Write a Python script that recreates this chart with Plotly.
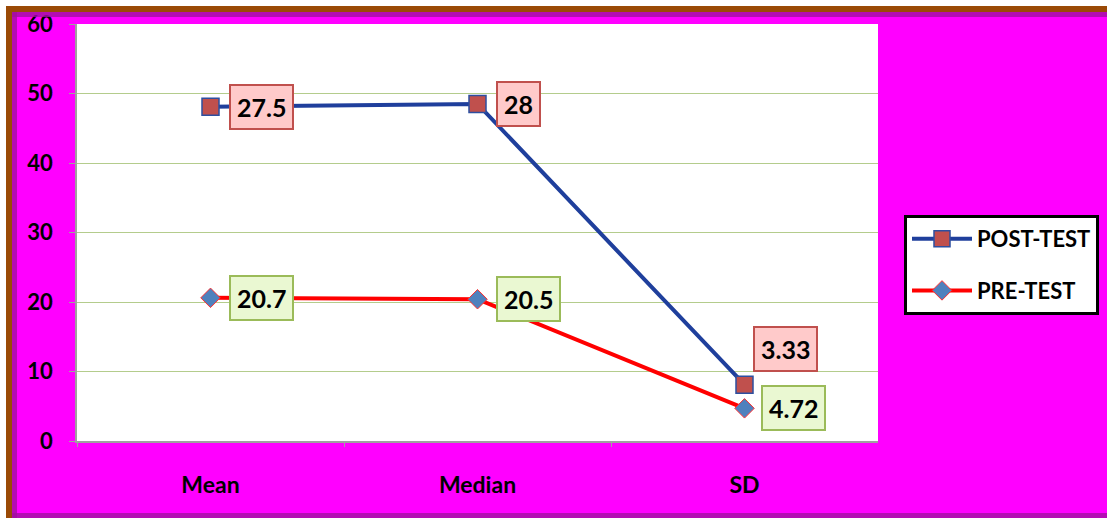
import plotly.graph_objects as go

categories = ["Mean", "Median", "SD"]
post_values = [48.1, 48.5, 8.1]
pre_values = [20.6, 20.4, 4.7]
post_labels = ["27.5", "28", "3.33"]
pre_labels = ["20.7", "20.5", "4.72"]
y_ticks = [0, 10, 20, 30, 40, 50, 60]

W, H = 1107, 518
FONT = "Lato, Open Sans, sans-serif"

fig = go.Figure()
fig.add_trace(go.Scatter(
    x=categories, y=post_values, name="POST-TEST", mode="lines+markers",
    legendgroup="post",
    line=dict(color="#1F3F9C", width=4),
    marker=dict(symbol="square", size=17, color="#C0504D", line=dict(color="#2D4FA0", width=1.5)),
))
fig.add_trace(go.Scatter(
    x=categories, y=pre_values, name="PRE-TEST", mode="lines+markers",
    legendgroup="pre",
    line=dict(color="#FF0000", width=4),
    marker=dict(symbol="diamond", size=15, color="#4F81BD", line=dict(color="#FF3030", width=1)),
))

post_shift = [(18, 0), (18, 0), (8, 36)]
pre_shift = [(18, 0), (18, 0), (16, 0)]
for cat, v, lab, (dx, dy) in zip(categories, post_values, post_labels, post_shift):
    fig.add_annotation(x=cat, y=v, text=lab, showarrow=False,
                       xanchor="left", yanchor="middle", xshift=dx, yshift=dy,
                       bgcolor="#FFCACA", bordercolor="#C0504D", borderwidth=2, borderpad=6,
                       font=dict(family=FONT, size=25, color="black", weight="bold"))
for cat, v, lab, (dx, dy) in zip(categories, pre_values, pre_labels, pre_shift):
    fig.add_annotation(x=cat, y=v, text=lab, showarrow=False,
                       xanchor="left", yanchor="middle", xshift=dx, yshift=dy,
                       bgcolor="#EAF8D2", bordercolor="#9BBB59", borderwidth=2, borderpad=6,
                       font=dict(family=FONT, size=25, color="black", weight="bold"))

def px_x(v):
    return v / W
def px_y(v):
    return 1 - v / H

shapes = [
    dict(type="rect", xref="paper", yref="paper", x0=0, x1=1, y0=px_y(6), y1=1,
         fillcolor="white", line=dict(width=0)),
    dict(type="rect", xref="paper", yref="paper", x0=0, x1=px_x(6), y0=0, y1=1,
         fillcolor="white", line=dict(width=0)),
    dict(type="rect", xref="paper", yref="paper", x0=px_x(6), x1=1, y0=px_y(12), y1=px_y(6),
         fillcolor="#9A4A06", line=dict(width=0)),
    dict(type="rect", xref="paper", yref="paper", x0=px_x(6), x1=px_x(12), y0=0, y1=px_y(6),
         fillcolor="#9A4A06", line=dict(width=0)),
    dict(type="rect", xref="paper", yref="paper", x0=px_x(12), x1=1, y0=px_y(17), y1=px_y(12),
         fillcolor="#A010A0", line=dict(width=0), opacity=0.8),
    dict(type="rect", xref="paper", yref="paper", x0=px_x(12), x1=px_x(17), y0=0, y1=px_y(12),
         fillcolor="#A010A0", line=dict(width=0), opacity=0.8),
    dict(type="rect", xref="paper", yref="paper", x0=px_x(12), x1=1, y0=0, y1=px_y(513),
         fillcolor="#A010A0", line=dict(width=0), opacity=0.8),
]

fig.update_layout(
    width=W, height=H,
    margin=dict(l=0, r=0, t=0, b=0, autoexpand=False),
    paper_bgcolor="#FF00FF",
    plot_bgcolor="white",
    font=dict(family=FONT, color="black"),
    shapes=shapes,
    showlegend=True,
    legend=dict(
        x=px_x(904), y=px_y(215), xanchor="left", yanchor="top",
        bgcolor="white", bordercolor="black", borderwidth=3,
        font=dict(family=FONT, size=22, color="black", weight="bold"),
        tracegroupgap=20, itemwidth=60,
    ),
    xaxis=dict(
        domain=[px_x(77), px_x(878)],
        type="category", range=[-0.5, 2.5],
        automargin=False,
        showgrid=False, showline=True, linecolor="#A0A0A0", linewidth=1.5,
        ticks="outside", tickson="boundaries", ticklen=4, tickcolor="#A0A0A0",
        tickfont=dict(family=FONT, size=23, color="black", weight="bold"),
        ticklabelstandoff=23,
        fixedrange=True,
    ),
    yaxis=dict(
        domain=[px_y(441), px_y(24)],
        range=[0, 60], tickvals=y_ticks,
        automargin=False,
        showgrid=True, gridcolor="#B4CC8C", gridwidth=1.2,
        showline=True, linecolor="#A0A0A0", linewidth=1.5,
        ticks="outside", ticklen=6, tickcolor="#A0A0A0",
        tickfont=dict(family=FONT, size=22, color="black", weight="bold"),
        ticklabelstandoff=12,
        zeroline=False,
        fixedrange=True,
    ),
)

fig.write_html("out.html")
